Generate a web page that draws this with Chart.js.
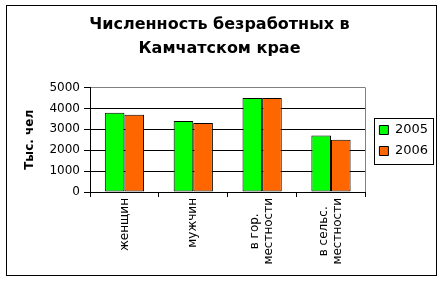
<!DOCTYPE html>
<html>
<head>
<meta charset="utf-8">
<script src="https://cdn.jsdelivr.net/npm/chart.js@4"></script>
<style>
  html, body { margin: 0; padding: 0; background: #fff; }
  #frame { position: absolute; left: 6px; top: 5px; width: 429px; height: 269px; border: 1px solid #000; }
</style>
</head>
<body>
<div id="frame"><canvas id="chart"></canvas></div>
<script>
// chart values
const categories = [['женщин'], ['мужчин'], ['в гор.', 'местности'], ['в сельс.', 'местности']];
const years = ['2005', '2006'];
const values2005 = [3800, 3400, 4500, 2700];
const values2006 = [3700, 3300, 4500, 2500];
const yMax = 5000;
const yStep = 1000;

const FONT = '"DejaVu Sans", Verdana, sans-serif';
const LEGEND_SIZE = 13;

// x labels: rotated, lines centred like the original
const xLabelsPlugin = {
    id: 'xLabels',
    afterDraw(chart) {
        const ctx = chart.ctx;
        const x = chart.scales.x;
        ctx.save();
        ctx.font = '12px ' + FONT;
        ctx.fillStyle = '#000';
        ctx.textAlign = 'center';
        ctx.textBaseline = 'middle';
        categories.forEach((lines, i) => {
            const px = x.getPixelForValue(i);
            const w = Math.max(...lines.map(l => ctx.measureText(l).width));
            ctx.save();
            ctx.translate(px, x.top + 6 + w / 2);
            ctx.rotate(-Math.PI / 2);
            lines.forEach((l, j) => {
                ctx.fillText(l, 0, (j - (lines.length - 1) / 2) * 14);
            });
            ctx.restore();
        });
        ctx.restore();
    }
};

// gray right edge of plot + box round the legend
const framePlugin = {
    id: 'frameLines',
    afterLayout(chart) {
        // nudge legend a bit to the right, as in the original
        chart.legend.left += 6;
        chart.legend.right += 6;
    },
    beforeDatasetsDraw(chart) {
        const {ctx, chartArea} = chart;
        ctx.save();
        ctx.strokeStyle = '#808080';
        ctx.lineWidth = 1;
        ctx.beginPath();
        ctx.moveTo(Math.round(chartArea.right) + 0.5, chartArea.top);
        ctx.lineTo(Math.round(chartArea.right) + 0.5, chartArea.bottom);
        ctx.stroke();
        ctx.restore();
    },
    afterDraw(chart) {
        const boxes = chart.legend.legendHitBoxes;
        if (!boxes || !boxes.length) return;
        const ctx = chart.ctx;
        ctx.save();
        ctx.font = LEGEND_SIZE + 'px ' + FONT;
        const tw = Math.max(...years.map(t => ctx.measureText(t).width));
        const l = Math.min(...boxes.map(b => b.left)) - 5;
        const t = Math.min(...boxes.map(b => b.top)) - 6;
        const r = Math.min(...boxes.map(b => b.left)) + 9 + LEGEND_SIZE / 2 + tw + 5;
        const bt = Math.max(...boxes.map(b => b.top + b.height)) + 6;
        ctx.strokeStyle = '#000';
        ctx.lineWidth = 1;
        ctx.strokeRect(Math.round(l) + 0.5, Math.round(t) + 0.5, Math.round(r - l), Math.round(bt - t));
        ctx.restore();
    }
};

new Chart(document.getElementById('chart'), {
    type: 'bar',
    data: {
        labels: categories,
        datasets: [{
            label: years[0],
            data: values2005,
            backgroundColor: '#00ff00',
            borderColor: '#000',
            borderWidth: 1,
            borderSkipped: false
        }, {
            label: years[1],
            data: values2006,
            backgroundColor: '#ff6600',
            borderColor: '#000',
            borderWidth: 1,
            borderSkipped: false
        }]
    },
    options: {
        responsive: true,
        maintainAspectRatio: false,
        animation: false,
        datasets: {
            bar: { categoryPercentage: 0.57, barPercentage: 1.0 }
        },
        layout: { padding: { left: 0, right: 4, top: 0, bottom: 0 } },
        plugins: {
            title: {
                display: true,
                text: ['Численность безработных в', 'Камчатском крае'],
                color: '#000',
                font: { family: FONT, size: 16, weight: 'bold', lineHeight: 1.55 },
                padding: { top: 6, bottom: 26 }
            },
            legend: {
                position: 'right',
                labels: {
                    color: '#000',
                    boxWidth: 9,
                    boxHeight: 9,
                    padding: 8,
                    font: { family: FONT, size: LEGEND_SIZE }
                }
            },
            tooltip: { enabled: false }
        },
        scales: {
            x: {
                afterFit(scale) { scale.height = 83; },
                grid: {
                    offset: true,
                    drawOnChartArea: false,
                    color: '#000',
                    tickLength: 5
                },
                border: { color: '#000' },
                ticks: { display: false }
            },
            y: {
                min: 0,
                max: yMax,
                afterFit(scale) { scale.width = 83; },
                ticks: {
                    stepSize: yStep,
                    color: '#000',
                    padding: 4,
                    font: { family: FONT, size: 12 },
                    callback: v => String(v)
                },
                grid: {
                    color: c => (c.tick && c.tick.value === yMax) ? '#808080' : '#000',
                    tickColor: '#000',
                    tickLength: 6
                },
                border: { color: '#000' },
                title: {
                    display: true,
                    text: 'Тыс. чел',
                    color: '#000',
                    font: { family: FONT, size: 12, weight: 'bold' },
                    padding: { top: 16, bottom: 0 }
                }
            }
        }
    },
    plugins: [xLabelsPlugin, framePlugin]
});
</script>
</body>
</html>
